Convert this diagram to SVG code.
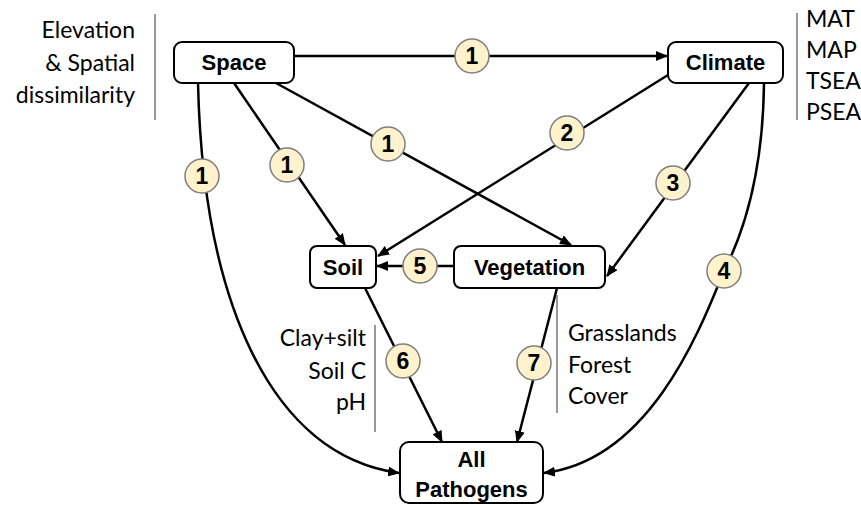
<svg xmlns="http://www.w3.org/2000/svg" width="861" height="505" viewBox="0 0 861 505">
<defs>
<marker id="arr" markerUnits="userSpaceOnUse" markerWidth="12" markerHeight="10" refX="11" refY="5" orient="auto">
<path d="M0,0 L12,5 L0,10 Z" fill="#000"/>
</marker>
</defs>
<style>
.box{fill:#fff;stroke:#000;stroke-width:2}
.lbl{font-family:"Liberation Sans",Arial,sans-serif;font-weight:bold;font-size:22px;fill:#000;text-anchor:middle}
.edge{fill:none;stroke:#000;stroke-width:2.5}
.ar{marker-end:url(#arr)}
.num{fill:#FFF2CC;stroke:#7f7f7f;stroke-width:1.5}
.nt{font-family:"Liberation Sans",Arial,sans-serif;font-weight:bold;font-size:23px;fill:#000;text-anchor:middle}
.note{font-family:Lato,"Liberation Sans",Arial,sans-serif;font-size:23px;fill:#000}
.sep{stroke:#555;stroke-width:1.2}
</style>
<g id="connectors">
<path class="edge ar" d="M294,56 L667,56"/>
<path class="edge ar" d="M198,83 C203,300 270,455 399,473"/>
<path class="edge ar" d="M234,83 L345,245"/>
<path class="edge ar" d="M276,83 L571,245"/>
<path class="edge ar" d="M668,75 L378,256"/>
<path class="edge ar" d="M749,83 L607,276"/>
<path class="edge ar" d="M764,83 C763,170 745,230 724,271 C700,330 650,460 544,473"/>
<path class="edge ar" d="M454,266 L377,266"/>
<path class="edge ar" d="M365,288 L442,442"/>
<path class="edge ar" d="M557,288 L517,442"/>
<g id="lab1a"><circle class="num" cx="472" cy="56" r="17"/><text class="nt" x="472" y="64">1</text></g>
<g id="lab1b"><circle class="num" cx="202" cy="176" r="17"/><text class="nt" x="202" y="184">1</text></g>
<g id="lab1c"><circle class="num" cx="287" cy="165" r="17"/><text class="nt" x="287" y="173">1</text></g>
<g id="lab1d"><circle class="num" cx="388" cy="144" r="17"/><text class="nt" x="388" y="152">1</text></g>
<g id="lab2"><circle class="num" cx="567" cy="133" r="17"/><text class="nt" x="567" y="141">2</text></g>
<g id="lab3"><circle class="num" cx="673" cy="183" r="17"/><text class="nt" x="673" y="191">3</text></g>
<g id="lab4"><circle class="num" cx="724" cy="271" r="17"/><text class="nt" x="724" y="279">4</text></g>
<g id="lab5"><circle class="num" cx="420" cy="266" r="17"/><text class="nt" x="420" y="274">5</text></g>
<g id="lab6"><circle class="num" cx="403" cy="361" r="17"/><text class="nt" x="403" y="369">6</text></g>
<g id="lab7"><circle class="num" cx="534" cy="363" r="17"/><text class="nt" x="534" y="371">7</text></g>
</g>
<g id="space"><rect class="box" x="174" y="42" width="120" height="41" rx="8"/><text class="lbl" x="234" y="70">Space</text></g>
<g id="climate"><rect class="box" x="668" y="42" width="115" height="41" rx="8"/><text class="lbl" x="725.5" y="70">Climate</text></g>
<g id="soil"><rect class="box" x="310" y="246" width="66" height="42" rx="7"/><text class="lbl" x="343" y="275">Soil</text></g>
<g id="vegetation"><rect class="box" x="454" y="246" width="151" height="42" rx="7"/><text class="lbl" x="529.5" y="275">Vegetation</text></g>
<g id="pathogens"><rect class="box" x="400" y="442" width="143" height="61" rx="9"/><text class="lbl" x="471.5" y="467">All</text><text class="lbl" x="471.5" y="497">Pathogens</text></g>
<g id="space-notes">
<text class="note" x="135" y="38" text-anchor="end">Elevation</text>
<text class="note" x="135" y="71" text-anchor="end">&amp; Spatial</text>
<text class="note" x="135" y="103" text-anchor="end">dissimilarity</text>
<line class="sep" x1="155" y1="14" x2="155" y2="120"/>
</g>
<g id="climate-notes">
<line class="sep" x1="797" y1="13" x2="797" y2="120"/>
<text class="note" x="806" y="27">MAT</text>
<text class="note" x="806" y="58">MAP</text>
<text class="note" x="806" y="89">TSEA</text>
<text class="note" x="806" y="120">PSEA</text>
</g>
<g id="soil-notes">
<text class="note" x="366" y="346" text-anchor="end">Clay+silt</text>
<text class="note" x="366" y="379" text-anchor="end">Soil C</text>
<text class="note" x="366" y="410" text-anchor="end">pH</text>
<line class="sep" x1="375" y1="325" x2="375" y2="432"/>
</g>
<g id="veg-notes">
<line class="sep" x1="557" y1="295" x2="557" y2="413"/>
<text class="note" x="568" y="341">Grasslands</text>
<text class="note" x="568" y="373">Forest</text>
<text class="note" x="568" y="404">Cover</text>
</g>
</svg>
